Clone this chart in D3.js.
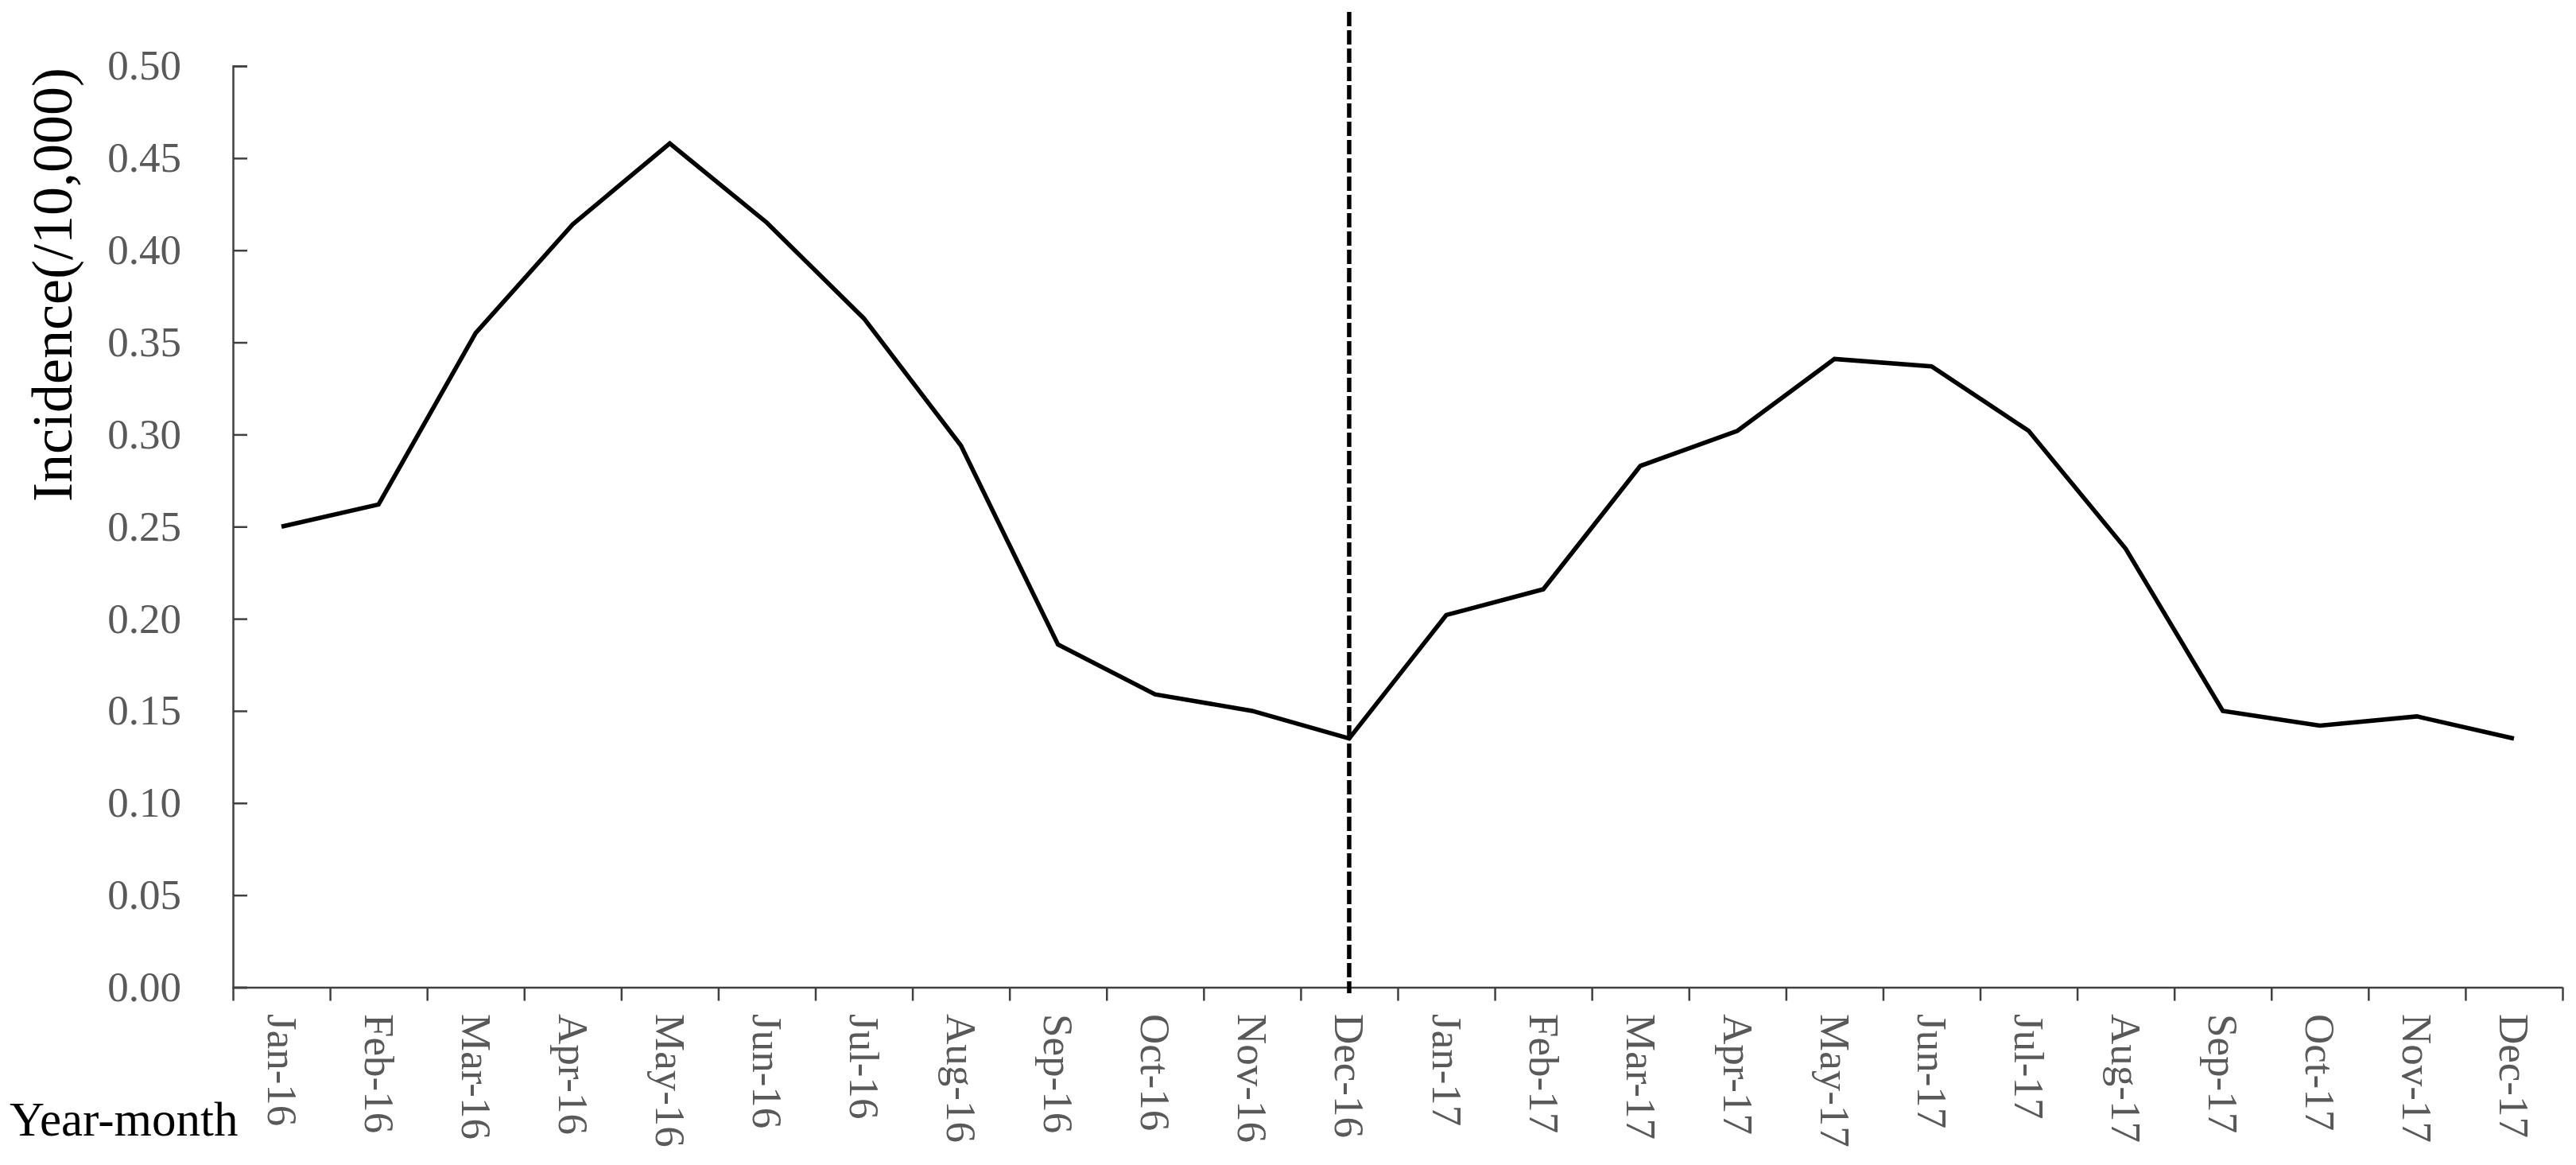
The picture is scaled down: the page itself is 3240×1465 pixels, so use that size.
<!DOCTYPE html>
<html>
<head>
<meta charset="utf-8">
<script src="https://cdn.jsdelivr.net/npm/d3@7"></script>
<style>
  html, body { margin: 0; padding: 0; background: #ffffff; }
  svg { display: block; }
  text { font-family: "Liberation Serif", "Times New Roman", serif; }
</style>
</head>
<body>
<script>
// ---- data ----
const months = ["Jan-16","Feb-16","Mar-16","Apr-16","May-16","Jun-16","Jul-16","Aug-16","Sep-16","Oct-16","Nov-16","Dec-16",
                "Jan-17","Feb-17","Mar-17","Apr-17","May-17","Jun-17","Jul-17","Aug-17","Sep-17","Oct-17","Nov-17","Dec-17"];
const incidence = [0.250,0.262,0.355,0.414,0.458,0.415,0.363,0.294,0.186,0.159,0.150,0.135,
                   0.202,0.216,0.283,0.302,0.341,0.337,0.302,0.238,0.150,0.142,0.147,0.135];
const yTicks = [0.00,0.05,0.10,0.15,0.20,0.25,0.30,0.35,0.40,0.45,0.50];
const markerMonth = "Dec-16";
const yTitle = "Incidence(/10,000)";
const xTitle = "Year-month";

// ---- layout ----
const W = 3240, H = 1465;
const mLeft = 293, mRight = 3223, mTop = 83, mBottom = 1241.5;

const svg = d3.select("body").append("svg").attr("width", W).attr("height", H);

const x = d3.scaleBand().domain(months).range([mLeft, mRight]).padding(0);
const xEdge = d3.scaleLinear().domain([0, months.length]).range([mLeft, mRight]);
const y = d3.scaleLinear().domain([0, 0.5]).range([mBottom, mTop]);

// y axis
const yAxis = svg.append("g").attr("transform", `translate(${mLeft},0)`)
  .call(d3.axisLeft(y).tickValues(yTicks).tickFormat(d3.format(".2f"))
        .tickSize(-18).tickPadding(65));
yAxis.select(".domain").attr("stroke", "#404040").attr("stroke-width", 2.5);
yAxis.selectAll(".tick line").attr("stroke", "#404040").attr("stroke-width", 2.5);
yAxis.selectAll(".tick text").attr("fill", "#595959").attr("font-size", 53)
  .attr("font-family", "Liberation Serif, Times New Roman, serif");

// x axis (ticks at category boundaries)
const xAxis = svg.append("g").attr("transform", `translate(0,${mBottom})`)
  .call(d3.axisBottom(xEdge).tickValues(d3.range(0, months.length + 1)).tickFormat("")
        .tickSize(17).tickSizeOuter(0));
xAxis.select(".domain").attr("stroke", "#404040").attr("stroke-width", 2.5);
xAxis.selectAll(".tick line").attr("stroke", "#404040").attr("stroke-width", 2.5);

// x labels
svg.append("g").selectAll("text").data(months).join("text")
  .attr("transform", d => `translate(${x(d) + x.bandwidth() / 2},1275) rotate(90)`)
  .attr("dy", "0.33em")
  .attr("text-anchor", "start")
  .attr("fill", "#595959")
  .attr("font-size", 53)
  .text(d => d);

// vertical dashed marker
svg.append("line")
  .attr("x1", x(markerMonth) + x.bandwidth() / 2)
  .attr("x2", x(markerMonth) + x.bandwidth() / 2)
  .attr("y1", 15).attr("y2", 1249)
  .attr("stroke", "#000").attr("stroke-width", 5.5)
  .attr("stroke-dasharray", "18,5");

// line
const line = d3.line()
  .x((d, i) => x(months[i]) + x.bandwidth() / 2)
  .y(d => y(d));
svg.append("path").datum(incidence)
  .attr("d", line)
  .attr("fill", "none")
  .attr("stroke", "#000")
  .attr("stroke-width", 5.5)
  .attr("stroke-linejoin", "miter");

// titles
svg.append("text")
  .attr("transform", `translate(90,358) rotate(-90)`)
  .attr("text-anchor", "middle")
  .attr("fill", "#000")
  .attr("font-size", 72)
  .text(yTitle);

svg.append("text")
  .attr("x", 12).attr("y", 1428)
  .attr("fill", "#000")
  .attr("font-size", 61)
  .text(xTitle);
</script>
</body>
</html>
